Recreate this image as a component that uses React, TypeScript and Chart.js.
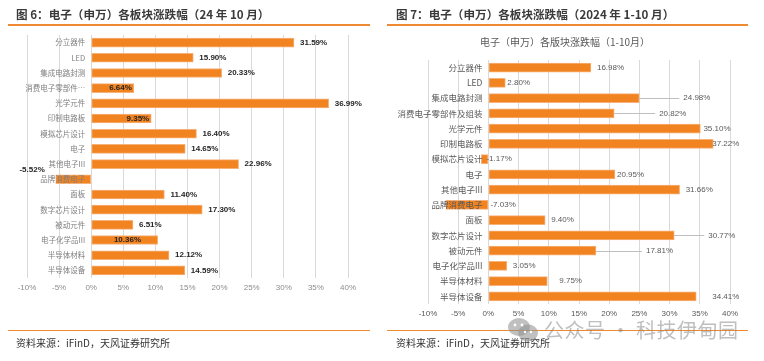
import React, { useEffect, useRef } from "react";
import { Chart, registerables } from "chart.js";

Chart.register(...registerables);

// ---------- data ----------
const categoriesOct = [
  "分立器件", "LED", "集成电路封测", "消费电子零部件…", "光学元件", "印制电路板",
  "模拟芯片设计", "电子", "其他电子III", "品牌消费电子", "面板", "数字芯片设计",
  "被动元件", "电子化学品III", "半导体材料", "半导体设备",
];
const valuesOct = [
  31.59, 15.9, 20.33, 6.64, 36.99, 9.35, 16.4, 14.65, 22.96, -5.52, 11.4, 17.3,
  6.51, 10.36, 12.12, 14.59,
];
const categoriesYtd = [
  "分立器件", "LED", "集成电路封测", "消费电子零部件及组装", "光学元件", "印制电路板",
  "模拟芯片设计", "电子", "其他电子III", "品牌消费电子", "面板", "数字芯片设计",
  "被动元件", "电子化学品III", "半导体材料", "半导体设备",
];
const valuesYtd = [
  16.98, 2.8, 24.98, 20.82, 35.1, 37.22, -1.17, 20.95, 31.66, -7.03, 9.4, 30.77,
  17.81, 3.05, 9.75, 34.41,
];
const axisMin = -10;
const axisMax = 40;
const axisStep = 5;

// ---------- label styling (not data) ----------
// left chart: how each value label is placed relative to its bar
const octLabelMode = [
  "out", "out", "out", "inEnd", "out", "inEnd", "out", "out", "out", "negAbove",
  "out", "out", "out", "inMid", "out", "out",
];
// right chart: gap (px) between bar end and label; large gaps get a leader line
const ytdLabelGap = [6, 2, 44, 45, 3, -1, -2, 2, 6, 2, 6, 34, 50, 6, 12, 16];

const ORANGE = "#F18321";
const ORANGE_EDGE = "#F7B27A";
const CJK = '"Noto Sans CJK SC", "Noto Sans", sans-serif';
const LAT = '"Liberation Sans", Arial, sans-serif';

type PanelProps = {
  categories: string[];
  values: number[];
  width: number;
  height: number;
  padding: { left: number; right: number; top: number; bottom: number };
  tickColor: string;
  catColor: string;
  catFont: string;
  drawValues: (chart: any) => void;
};

function BarPanel(p: PanelProps) {
  const ref = useRef<HTMLCanvasElement | null>(null);
  useEffect(() => {
    if (!ref.current) return;
    const plugin = {
      id: "customLabels",
      afterDatasetsDraw(chart: any) {
        const ctx = chart.ctx;
        const meta = chart.getDatasetMeta(0);
        const zero = chart.scales.x.getPixelForValue(0);
        ctx.save();
        ctx.font = p.catFont;
        ctx.fillStyle = p.catColor;
        ctx.textAlign = "right";
        ctx.textBaseline = "middle";
        p.categories.forEach((c, i) => {
          const bar = meta.data[i];
          ctx.fillText(c, zero - 6, bar.y);
        });
        ctx.restore();
        ctx.save();
        p.drawValues(chart);
        ctx.restore();
      },
    };
    const chart = new Chart(ref.current, {
      type: "bar",
      data: {
        labels: p.categories,
        datasets: [
          {
            data: p.values,
            backgroundColor: ORANGE,
            borderColor: ORANGE_EDGE,
            borderWidth: 1,
            borderSkipped: false,
            barThickness: 9,
          },
        ],
      },
      options: {
        indexAxis: "y",
        animation: false,
        responsive: false,
        maintainAspectRatio: false,
        layout: { padding: p.padding },
        plugins: {
          legend: { display: false },
          tooltip: { enabled: false },
          title: { display: false },
        },
        scales: {
          x: {
            type: "linear",
            min: axisMin,
            max: axisMax,
            ticks: {
              stepSize: axisStep,
              padding: 5,
              color: p.tickColor,
              font: { family: LAT, size: 8 },
              callback: (v: any) => `${v}%`,
            },
            grid: { color: "#D9D9D9", lineWidth: 1, drawTicks: false },
            border: { display: false },
            afterFit: (scale: any) => {
              scale.height = 20;
            },
          },
          y: {
            type: "category",
            display: false,
            grid: { display: false },
          },
        },
      },
      plugins: [plugin],
    });
    return () => chart.destroy();
  }, []);
  return (
    <canvas
      ref={ref}
      width={p.width}
      height={p.height}
      style={{ width: p.width, height: p.height, display: "block" }}
    />
  );
}

const fmt = (v: number) => `${v.toFixed(2)}%`;

function drawOctValues(chart: any) {
  const ctx = chart.ctx;
  const meta = chart.getDatasetMeta(0);
  const zero = chart.scales.x.getPixelForValue(0);
  ctx.font = `bold 8px ${LAT}`;
  ctx.fillStyle = "#262626";
  ctx.textBaseline = "middle";
  valuesOct.forEach((v, i) => {
    const bar = meta.data[i];
    const mode = octLabelMode[i];
    const t = fmt(v);
    if (mode === "out") {
      ctx.textAlign = "left";
      ctx.fillText(t, bar.x + 6, bar.y);
    } else if (mode === "inEnd") {
      ctx.textAlign = "right";
      ctx.fillText(t, bar.x - 2, bar.y);
    } else if (mode === "inMid") {
      ctx.textAlign = "center";
      ctx.fillText(t, (zero + bar.x) / 2 + 3, bar.y);
    } else {
      ctx.textAlign = "right";
      ctx.fillText(t, bar.x - 11, bar.y - 9);
    }
  });
}

function drawYtdValues(chart: any) {
  const ctx = chart.ctx;
  const meta = chart.getDatasetMeta(0);
  const zero = chart.scales.x.getPixelForValue(0);
  ctx.font = `8px ${LAT}`;
  ctx.textBaseline = "middle";
  ctx.textAlign = "left";
  valuesYtd.forEach((v, i) => {
    const bar = meta.data[i];
    const gap = ytdLabelGap[i];
    const anchor = v < 0 ? zero : bar.x;
    if (gap > 20) {
      ctx.strokeStyle = "#BFBFBF";
      ctx.lineWidth = 1;
      ctx.beginPath();
      ctx.moveTo(anchor, Math.round(bar.y) + 0.5);
      ctx.lineTo(anchor + gap - 4, Math.round(bar.y) + 0.5);
      ctx.stroke();
    }
    ctx.fillStyle = "#595959";
    ctx.fillText(fmt(v), anchor + gap, bar.y);
  });
}

const abs = (l: number, t: number, extra: any = {}) => ({
  position: "absolute" as const,
  left: l,
  top: t,
  ...extra,
});

export default function App() {
  return (
    <div
      style={{
        position: "fixed",
        left: 0,
        top: 0,
        width: 764,
        height: 361,
        background: "#fff",
        overflow: "hidden",
      }}
    >
      {/* left panel */}
      <div style={abs(0, 0)}>
        <BarPanel
          categories={categoriesOct}
          values={valuesOct}
          width={380}
          height={361}
          padding={{ left: 27, right: 32, top: 35, bottom: 63 }}
          tickColor="#8C8C8C"
          catColor="#808080"
          catFont={`7.5px ${CJK}`}
          drawValues={drawOctValues}
        />
      </div>
      {/* right panel */}
      <div style={abs(380, 0)}>
        <BarPanel
          categories={categoriesYtd}
          values={valuesYtd}
          width={384}
          height={361}
          padding={{ left: 48, right: 34, top: 60, bottom: 37 }}
          tickColor="#595959"
          catColor="#595959"
          catFont={`8.5px ${CJK}`}
          drawValues={drawYtdValues}
        />
      </div>

      {/* headers */}
      <div
        style={abs(16, 5, {
          font: `bold 11.6px ${CJK}`,
          color: "#3A3A3A",
          whiteSpace: "nowrap",
          lineHeight: "18px",
        })}
      >
        图 6：电子（申万）各板块涨跌幅（24 年 10 月）
      </div>
      <div
        style={abs(396, 5, {
          font: `bold 11.6px ${CJK}`,
          color: "#3A3A3A",
          whiteSpace: "nowrap",
          lineHeight: "18px",
        })}
      >
        图 7：电子（申万）各板块涨跌幅（2024 年 1-10 月）
      </div>
      <div style={abs(8, 24, { width: 362, height: 1.5, background: "#F08A32" })} />
      <div style={abs(387, 24, { width: 361, height: 1.5, background: "#F08A32" })} />

      {/* inner chart title (right) */}
      <div
        style={abs(480, 34, {
          font: `10px ${CJK}`,
          color: "#595959",
          whiteSpace: "nowrap",
          lineHeight: "16px",
        })}
      >
        电子（申万）各版块涨跌幅（1-10月）
      </div>

      {/* footers */}
      <div style={abs(8, 329.5, { width: 362, height: 1.5, background: "#F08A32" })} />
      <div style={abs(387, 329.5, { width: 361, height: 1.5, background: "#F08A32" })} />
      <div
        style={abs(16, 335, {
          font: `10px ${CJK}`,
          color: "#333",
          whiteSpace: "nowrap",
          lineHeight: "16px",
        })}
      >
        资料来源：iFinD，天风证券研究所
      </div>
      <div
        style={abs(396, 335, {
          font: `10px ${CJK}`,
          color: "#333",
          whiteSpace: "nowrap",
          lineHeight: "16px",
        })}
      >
        资料来源：iFinD，天风证券研究所
      </div>

      {/* watermark */}
      <svg style={abs(507, 317)} width={32} height={26} viewBox="0 0 32 26">
        <ellipse cx={12} cy={10} rx={11} ry={9} fill="rgba(140,140,140,0.55)" />
        <ellipse cx={21} cy={16} rx={10} ry={8.5} fill="rgba(150,150,150,0.6)" />
        <circle cx={8} cy={8} r={1.4} fill="#fff" />
        <circle cx={15} cy={8} r={1.4} fill="#fff" />
        <circle cx={18} cy={15} r={1.2} fill="#fff" />
        <circle cx={24} cy={15} r={1.2} fill="#fff" />
      </svg>
      <div
        style={abs(544, 317, {
          font: `20px ${CJK}`,
          color: "rgba(128,128,128,0.5)",
          whiteSpace: "nowrap",
          lineHeight: "26px",
          letterSpacing: "0.5px",
        })}
      >
        公众号 · 科技伊甸园
      </div>
    </div>
  );
}
